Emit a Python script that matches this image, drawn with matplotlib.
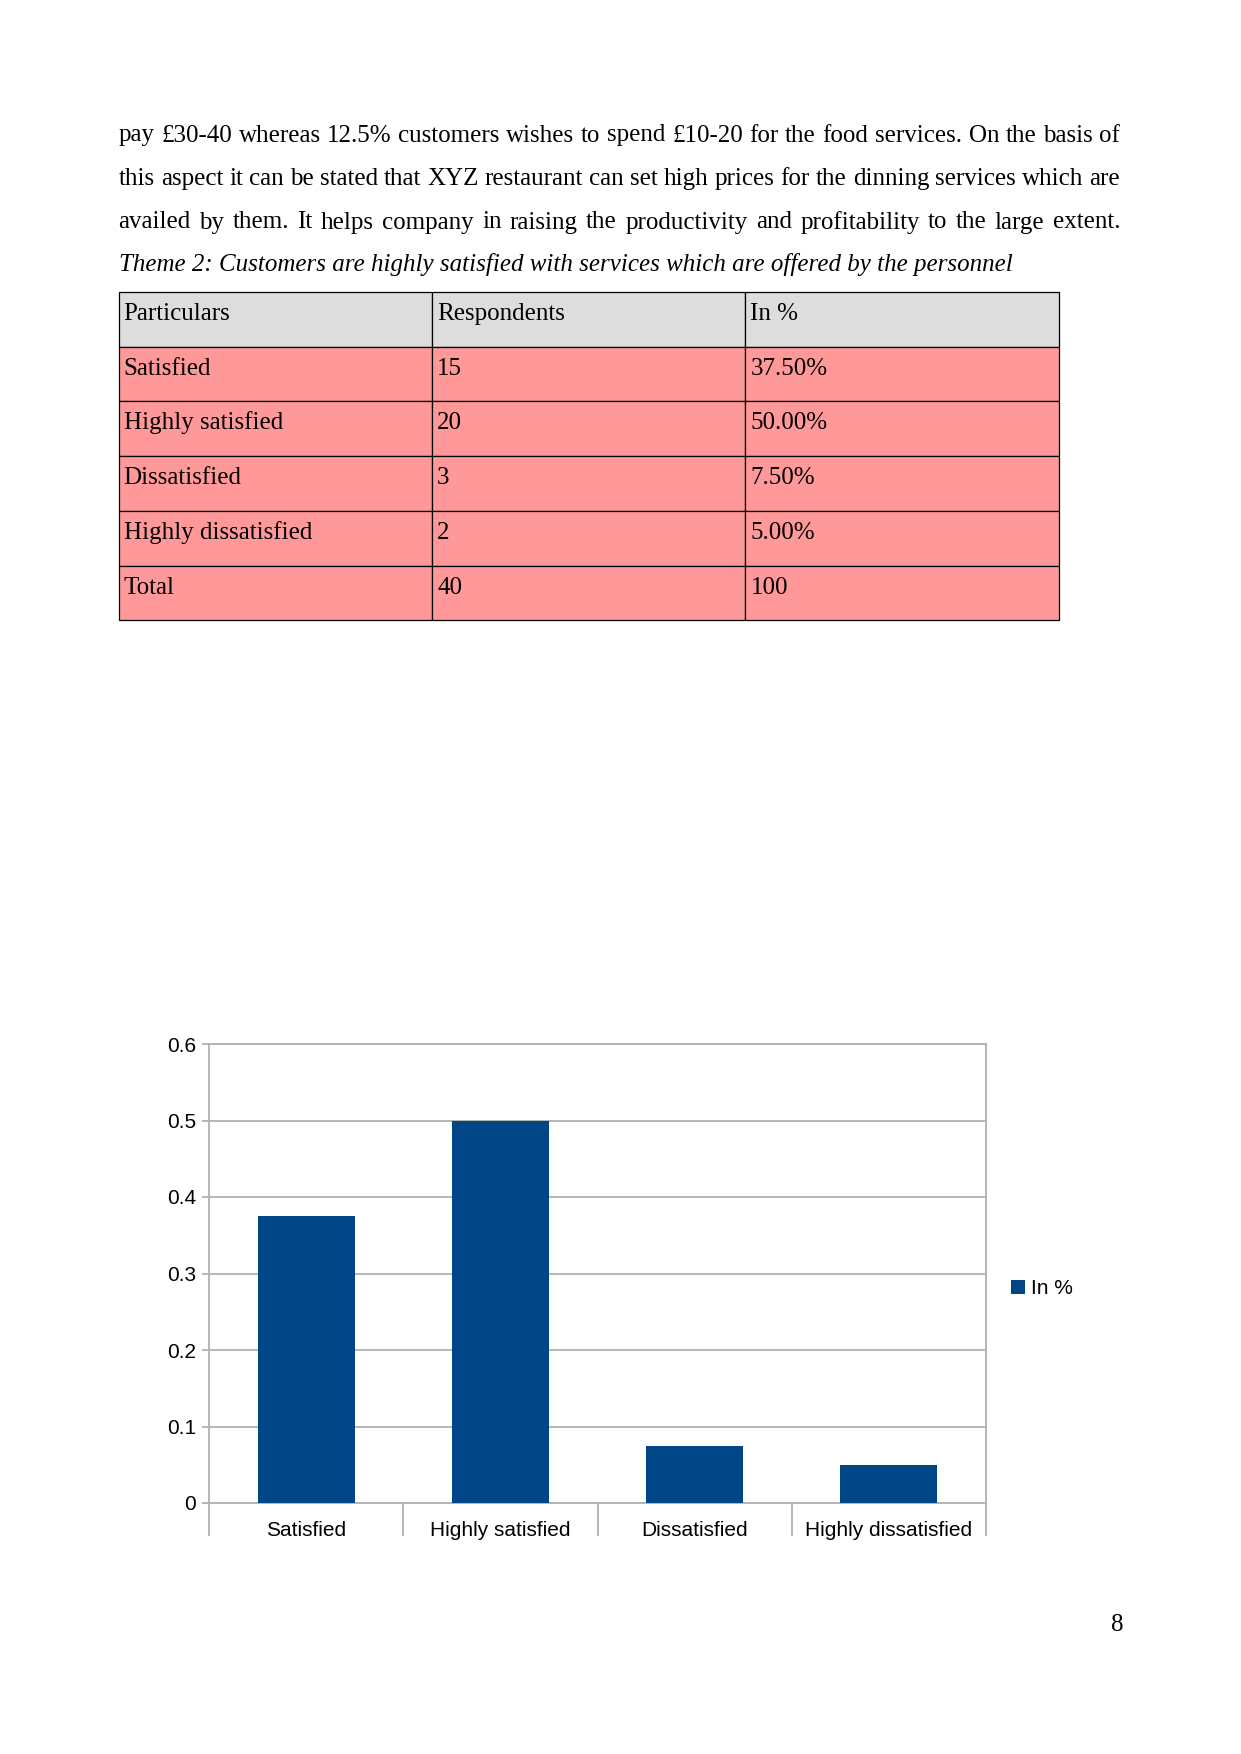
import matplotlib.pyplot as plt
import numpy as np
from matplotlib.patches import Rectangle

W, H = 1241, 1754
DPI = 150

# paragraph above the table
para_lines = [
    "pay £30-40 whereas 12.5% customers wishes to spend £10-20 for the food services. On the basis of",
    "this aspect it can be stated that XYZ restaurant can set high prices for the dinning services which are",
    "availed by them. It helps company in raising the productivity and profitability to the large extent.",
]
theme_line = "Theme 2: Customers are highly satisfied with services which are offered by the personnel"

# table data
header = ["Particulars", "Respondents", "In %"]
particulars = ["Satisfied", "Highly satisfied", "Dissatisfied", "Highly dissatisfied", "Total"]
respondents = [15, 20, 3, 2, 40]
percent_labels = ["37.50%", "50.00%", "7.50%", "5.00%", "100"]

# chart data
categories = ["Satisfied", "Highly satisfied", "Dissatisfied", "Highly dissatisfied"]
share = [0.375, 0.50, 0.075, 0.05]
yticks = [0, 0.1, 0.2, 0.3, 0.4, 0.5, 0.6]

serif = "Liberation Serif"
sans = "Liberation Sans"

fig = plt.figure(figsize=(W / DPI, H / DPI), dpi=DPI)

# page layer in pixel units
page = fig.add_axes([0, 0, 1, 1])
page.set_xlim(0, W)
page.set_ylim(H, 0)
page.axis("off")

renderer = fig.canvas.get_renderer()

# justified paragraph lines
left, right = 118.6, 1120.2
baselines = [141.5, 185, 228.5]
for line, yb in zip(para_lines, baselines):
    words = line.split(" ")
    texts = [page.text(0, yb, w, fontsize=12, family=serif, va="baseline") for w in words]
    widths = [t.get_window_extent(renderer).width for t in texts]
    gap = (right - left - sum(widths)) / (len(words) - 1)
    x = left
    for t, w in zip(texts, widths):
        t.set_x(x)
        x += w + gap

page.text(left, 271.5, theme_line, fontsize=12, family=serif, style="italic", va="baseline")

# table
tab_left, tab_top = 118.6, 292
col_w, row_h = 313.4, 54.7
rows = [header] + [[p, str(r), s] for p, r, s in zip(particulars, respondents, percent_labels)]
for i, row in enumerate(rows):
    color = "#dddddd" if i == 0 else "#ff9999"
    for j, cell in enumerate(row):
        x0 = tab_left + j * col_w
        y0 = tab_top + i * row_h
        page.add_patch(Rectangle((x0, y0), col_w, row_h, facecolor=color,
                                 edgecolor="black", lw=0.6))
        page.text(x0 + 5, y0 + 28, cell, fontsize=12, family=serif, va="baseline")

page.text(1123, 1631, "8", fontsize=12, family=serif, ha="right", va="baseline")

# bar chart
ax_l, ax_r, ax_t, ax_b = 209.3, 986, 1044, 1503
ax = fig.add_axes([ax_l / W, 1 - ax_b / H, (ax_r - ax_l) / W, (ax_b - ax_t) / H])
xpos = np.arange(len(categories))
ax.bar(xpos, share, width=0.5, color="#004586", label="In %", zorder=3)
ax.set_xlim(-0.5, len(categories) - 0.5)
ax.set_ylim(0, 0.6)
ax.set_yticks(yticks)
ax.set_yticklabels([f"{v:g}" for v in yticks], fontsize=10, family=sans)
ax.set_xticks(xpos)
ax.set_xticklabels(categories, fontsize=10, family=sans)
ax.set_xticks(np.arange(-0.5, len(categories), 1), minor=True)
ax.yaxis.grid(True, color="#b3b3b3", lw=0.9)
ax.set_axisbelow(True)
for s in ax.spines.values():
    s.set_color("#b3b3b3")
    s.set_linewidth(0.9)
ax.tick_params(axis="y", length=3.4, pad=3, color="#b3b3b3", width=0.9)
ax.tick_params(axis="x", which="major", length=0, pad=8.5)
ax.tick_params(axis="x", which="minor", length=16, color="#b3b3b3", width=0.9)

ax.legend(loc="center left", bbox_to_anchor=(1011 / W, 1 - 1289 / H),
          bbox_transform=fig.transFigure, frameon=False, borderpad=0, borderaxespad=0,
          handlelength=0.65, handleheight=0.65, handletextpad=0.3,
          prop={"family": sans, "size": 10})

fig.savefig("out.png", dpi=DPI)
plt.close()
